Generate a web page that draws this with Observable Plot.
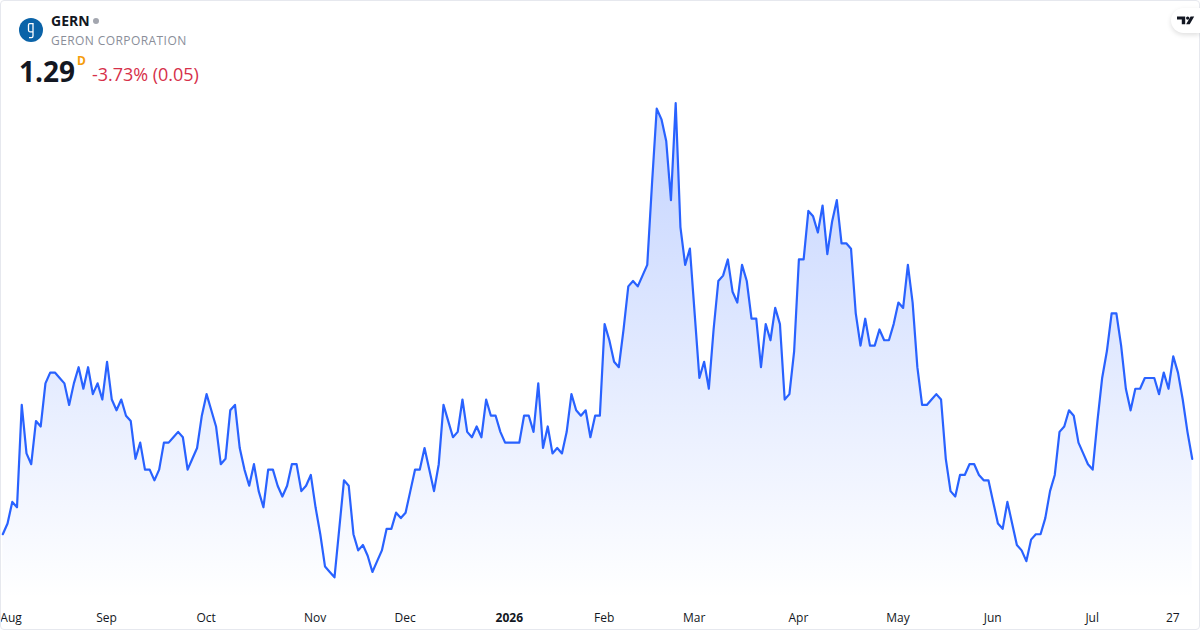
<!DOCTYPE html>
<html>
<head>
<meta charset="utf-8">
<script src="https://cdn.jsdelivr.net/npm/d3@7"></script>
<script src="https://cdn.jsdelivr.net/npm/@observablehq/plot@0.6"></script>
<style>
  html, body { margin: 0; padding: 0; background: #fff; width: 1200px; height: 630px; overflow: hidden; }
  body { font-family: "Open Sans", sans-serif; position: relative; }
  #card { position: absolute; left: 0; top: 0; width: 1198px; height: 628px; border: 1px solid #e6e8ee; border-radius: 4px; }
  #chart { position: absolute; left: 0; top: 0; }
  #chart svg { display: block; }
  .h { position: absolute; white-space: nowrap; line-height: 1; }
  #logo { position: absolute; left: 19px; top: 18px; width: 24px; height: 24px; }
  #sym { left: 51px; top: 14px; font-size: 14px; font-weight: 700; color: #131722; }
  #dot { position: absolute; left: 93px; top: 18px; width: 6px; height: 6px; border-radius: 50%; background: #a3a6af; }
  #name { left: 51px; top: 35px; font-size: 12px; color: #8a8e99; letter-spacing: .42px; }
  #last { left: 19px; top: 57px; font-size: 28px; font-weight: 700; color: #131722; }
  #res { left: 77px; top: 55px; font-size: 12px; font-weight: 700; color: #f59d0c; }
  #chg { left: 92px; top: 65px; font-size: 18px; letter-spacing: -.03px; color: #d6304a; }
  #tv { position: absolute; left: 1171px; top: 8px; width: 29px; height: 25px; background: #fff; border-radius: 13px 0 0 13px; box-shadow: 0 2px 5px rgba(0,0,0,.13); }
</style>
</head>
<body>
<div id="chart"></div>
<div id="card"></div>
<svg id="logo" viewBox="0 0 24 24"><circle cx="12" cy="12" r="12" fill="#0a63a8"/><path d="M10.6 5.6h3.4v8.2h-3c-1 0-1.5-.6-1.5-1.5V7.1c0-1 .4-1.5 1.1-1.5zM14 13.8v4.2c0 1-.7 1.6-1.6 1.6H10" fill="none" stroke="#fff" stroke-width="1.3"/></svg>
<div class="h" id="sym">GERN</div>
<div id="dot"></div>
<div class="h" id="name">GERON CORPORATION</div>
<div class="h" id="last">1.29</div>
<div class="h" id="res">D</div>
<div class="h" id="chg">-3.73% (0.05)</div>
<div id="tv"><svg width="29" height="25" viewBox="0 0 29 25"><path d="M6 8.4h8.2v7.8h-3.4v-4.6H6zM19.6 8.4h3.6l-4.5 7.8h-3.6z" fill="#131722"/><circle cx="16.7" cy="10.1" r="1.7" fill="#131722"/></svg></div>
<script>
const prices = [
1.15,1.17,1.21,1.20,1.39,1.30,1.28,1.36,1.35,1.43,1.45,1.45,1.44,1.43,1.39,1.43,1.46,1.42,1.46,1.41,1.43,1.40,1.47,1.40,1.38,1.40,1.37,1.36,1.29,1.32,
1.27,1.27,1.25,1.27,1.32,1.32,1.33,1.34,1.33,1.27,1.29,1.31,1.37,1.41,1.38,1.35,1.28,1.29,1.38,1.39,1.31,1.27,1.24,1.28,1.23,1.20,1.27,1.27,1.24,1.22,
1.24,1.28,1.28,1.23,1.24,1.26,1.20,1.15,1.09,1.08,1.07,1.16,1.25,1.24,1.15,1.12,1.13,1.11,1.08,1.10,1.12,1.16,1.16,1.19,1.18,1.19,1.23,1.27,1.27,1.31,
1.27,1.23,1.28,1.39,1.36,1.33,1.34,1.40,1.34,1.33,1.35,1.33,1.40,1.37,1.37,1.34,1.32,1.32,1.32,1.32,1.37,1.37,1.34,1.43,1.31,1.35,1.30,1.31,1.30,1.34,
1.41,1.38,1.37,1.38,1.33,1.37,1.37,1.54,1.51,1.47,1.46,1.53,1.61,1.62,1.61,1.63,1.65,1.80,1.94,1.92,1.88,1.77,1.95,1.72,1.65,1.68,1.56,1.44,1.47,1.42,
1.53,1.62,1.63,1.66,1.60,1.58,1.65,1.62,1.55,1.55,1.46,1.54,1.51,1.57,1.54,1.40,1.41,1.49,1.66,1.66,1.75,1.74,1.71,1.76,1.67,1.73,1.77,1.69,1.69,1.68,
1.56,1.50,1.55,1.50,1.50,1.53,1.51,1.51,1.54,1.58,1.57,1.65,1.58,1.46,1.39,1.39,1.40,1.41,1.40,1.29,1.23,1.22,1.26,1.26,1.28,1.28,1.26,1.25,1.25,1.21,
1.17,1.16,1.21,1.17,1.13,1.12,1.10,1.14,1.15,1.15,1.18,1.23,1.26,1.34,1.35,1.38,1.37,1.32,1.30,1.28,1.27,1.36,1.44,1.49,1.56,1.56,1.50,1.42,1.38,1.42,
1.42,1.44,1.44,1.44,1.41,1.45,1.42,1.48,1.45,1.40,1.34,1.29
];
const tickIndex = [22,43,66,85,127,146,168,189,209,230,247];
const tickLabels = ["Sep","Oct","Nov","Dec","Feb","Mar","Apr","May","Jun","Jul","27"];
const firstTick = [{i:1, label:"Aug"}];
const yearTick = [{i:107, label:"2026"}];
const baseline = 1.03;

const table = prices.map((p, i) => ({i, p}));
const ticks = tickIndex.map((i, k) => ({i, label: tickLabels[k]}));
const tickStyle = {x:"i", text:"label", frameAnchor:"bottom", dy:-9, dx:-0.5, fontSize:12, fill:"#131722"};

const gradient = () => {
  const defs = d3.create("svg:defs");
  const g = defs.append("linearGradient").attr("id","fade").attr("x1",0).attr("x2",0).attr("y1",0).attr("y2",1);
  g.append("stop").attr("offset","0%").attr("stop-color","#2962ff").attr("stop-opacity",.28);
  g.append("stop").attr("offset","100%").attr("stop-color","#2962ff").attr("stop-opacity",0);
  return defs.node();
};

const chart = Plot.plot({
  width: 1200, height: 630,
  marginTop: 0, marginRight: 0, marginBottom: 0, marginLeft: 0,
  style: {background:"transparent", fontFamily:'"Open Sans", sans-serif'},
  x: {type:"linear", domain:[0,251], range:[2.3,1191.7], axis:null},
  y: {type:"linear", domain:[1,2], range:[614.55,75.75], axis:null},
  marks: [
    gradient,
    Plot.areaY(table, {x:"i", y1:baseline, y2:"p", fill:"url(#fade)"}),
    Plot.lineY(table, {x:"i", y:"p", stroke:"#2962ff", strokeWidth:2.2, strokeLinejoin:"round"}),
    Plot.text(ticks, tickStyle),
    Plot.text(firstTick, {...tickStyle, dx:3.5}),
    Plot.text(yearTick, {...tickStyle, fontWeight:700})
  ]
});
document.getElementById("chart").append(chart);
</script>
</body>
</html>
